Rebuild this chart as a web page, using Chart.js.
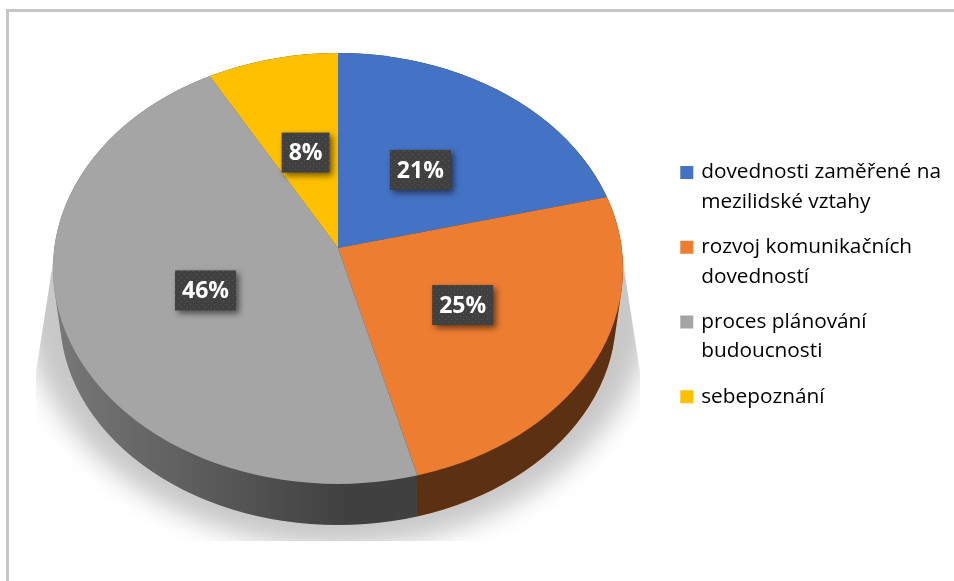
<!DOCTYPE html>
<html>
<head>
<meta charset="utf-8">
<script src="https://cdn.jsdelivr.net/npm/chart.js@4"></script>
<style>
    html, body { margin: 0; background: #fff; }
    #frame { position: absolute; left: 6px; top: 9px; right: 0; bottom: 0; border-left: 3px solid #c6c6c6; border-top: 3px solid #c6c6c6; }
    #chart { position: absolute; left: 0; top: 0; }
</style>
</head>
<body>
<div id="frame"></div>
<canvas id="chart" width="954" height="581"></canvas>
<script>
const categories = [
    ["dovednosti zaměřené na", "mezilidské vztahy"],
    ["rozvoj komunikačních", "dovedností"],
    ["proces plánování", "budoucnosti"],
    ["sebepoznání"]
];
const percentValues = [21, 25, 46, 8];
const sliceColors = ["#4472c4", "#ed7d31", "#a5a5a5", "#ffc000"];

// tilted disc: the top face is an ellipse, the apex sits above its centre
const pieX = 338, apexY = 248;
const faceRx = 285, faceRy = 215.5, faceCy = 268.5;
const sliceRy = 210;
const upperReach = 195, lowerReach = 236;
const floorRx = 278, floorRy = 208, floorCy = 317;
const overscan = 1.2;
// small shifts of the value boxes off their slice midlines
const labelNudge = [[-5, -1], [2, -3], [0, -1], [3, -1]];

function ellipsePath(ctx, cy, rx, ry) {
    ctx.moveTo(pieX + rx, cy);
    ctx.ellipse(pieX, cy, rx, ry, 0, 0, Math.PI * 2);
}

function paintSlices(chart, x, y, sx, sy) {
    const ctx = chart.ctx;
    chart.getDatasetMeta(0).data.forEach(function(arc) {
        const r = arc.outerRadius;
        ctx.save();
        ctx.translate(x, y);
        ctx.scale(sx / r, sy / r);
        ctx.translate(-arc.x, -arc.y);
        arc.draw(ctx);
        ctx.restore();
    });
}

function drawGroundShadow(chart) {
    const ctx = chart.ctx;
    ctx.save();
    ctx.beginPath();
    ctx.moveTo(53, 262);
    ctx.lineTo(36, 372);
    ctx.lineTo(36, 541);
    ctx.lineTo(640, 541);
    ctx.lineTo(640, 372);
    ctx.lineTo(623, 262);
    ctx.closePath();
    ctx.clip();
    // the ellipse itself sits off canvas, only its blurred shadow lands here
    ctx.shadowColor = "#c8c8c8";
    ctx.shadowBlur = 26;
    ctx.shadowOffsetX = 2000;
    ctx.fillStyle = "#000";
    ctx.translate(-2000, 0);
    ctx.beginPath();
    ellipsePath(ctx, 285, 318, 262);
    ctx.fill();
    ctx.restore();
}

function drawWall(chart) {
    const ctx = chart.ctx;
    ctx.save();
    ctx.beginPath();
    for (let i = 0; i <= 60; i++) {
        const t = i / 60;
        ellipsePath(ctx, faceCy + (floorCy - faceCy) * t, faceRx + (floorRx - faceRx) * t, faceRy + (floorRy - faceRy) * t);
    }
    ctx.clip();
    // stretched hard in y so the orange/grey seam hangs straight down from the rim
    paintSlices(chart, 414, 300, 400, 8000);
    const shade = ctx.createLinearGradient(60, 0, 345, 0);
    shade.addColorStop(0, "rgba(0,0,0,0.28)");
    shade.addColorStop(1, "rgba(0,0,0,0.61)");
    ctx.fillStyle = shade;
    ctx.fillRect(0, 0, chart.width, chart.height);
    ctx.restore();
}

function drawFace(chart) {
    const ctx = chart.ctx;
    ctx.save();
    ctx.beginPath();
    ellipsePath(ctx, faceCy, faceRx, faceRy);
    ctx.clip();
    paintSlices(chart, pieX, apexY, overscan * faceRx, overscan * sliceRy);
    ctx.restore();
}

function dottedFill(ctx) {
    const tile = document.createElement("canvas");
    tile.width = 6;
    tile.height = 6;
    const t = tile.getContext("2d");
    t.fillStyle = "#404040";
    t.fillRect(0, 0, 6, 6);
    t.fillStyle = "#585858";
    t.fillRect(1, 1, 1, 1);
    t.fillRect(4, 4, 1, 1);
    return ctx.createPattern(tile, "repeat");
}

function drawValueLabels(chart) {
    const ctx = chart.ctx;
    ctx.save();
    ctx.font = "bold 23px 'Open Sans'";
    ctx.textAlign = "center";
    ctx.textBaseline = "middle";
    const fill = dottedFill(ctx);
    chart.getDatasetMeta(0).data.forEach(function(arc, i) {
        const text = percentValues[i] + "%";
        const mid = (arc.startAngle + arc.endAngle) / 2;
        const reach = Math.sin(mid) < 0 ? upperReach : lowerReach;
        const x = pieX + Math.cos(mid) * 0.5 * faceRx + labelNudge[i][0];
        const y = apexY + Math.sin(mid) * 0.5 * reach + labelNudge[i][1];
        const w = ctx.measureText(text).width + 14;
        ctx.save();
        ctx.shadowColor = "rgba(0,0,0,0.55)";
        ctx.shadowBlur = 6;
        ctx.shadowOffsetX = 3;
        ctx.shadowOffsetY = 3;
        ctx.fillStyle = fill;
        ctx.fillRect(x - w / 2, y - 20, w, 40);
        ctx.restore();
        ctx.fillStyle = "#fff";
        ctx.fillText(text, x, y + 1);
    });
    ctx.restore();
}

const tiltedPie = {
    id: "tiltedPie",
    beforeDatasetsDraw(chart) {
        drawGroundShadow(chart);
        drawWall(chart);
        drawFace(chart);
        drawValueLabels(chart);
        return false;
    }
};

new Chart(document.querySelector("canvas#chart"), {
    type: "pie",
    data: {
        labels: categories,
        datasets: [{ data: percentValues, backgroundColor: sliceColors, borderWidth: 0 }]
    },
    options: {
        responsive: false,
        animation: false,
        layout: { padding: { right: 3, bottom: 3 } },
        plugins: {
            tooltip: { enabled: false },
            legend: {
                position: "right",
                labels: {
                    color: "#5f5f5f",
                    font: { family: "'Open Sans'", size: 20.8, lineHeight: 1.423 },
                    boxWidth: 8,
                    boxHeight: 8,
                    padding: 15.5,
                    generateLabels(chart) {
                        return categories.map(function(text, i) {
                            return { text: text, fillStyle: sliceColors[i], strokeStyle: sliceColors[i], lineWidth: 5, index: i };
                        });
                    }
                }
            }
        }
    },
    plugins: [tiltedPie]
});
</script>
</body>
</html>
